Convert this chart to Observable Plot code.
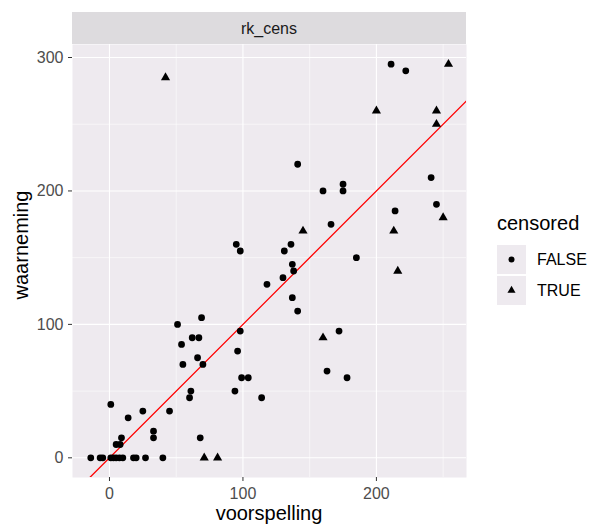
<!DOCTYPE html>
<html><head><meta charset="utf-8">
<script src="https://cdn.jsdelivr.net/npm/d3@7"></script>
<script src="https://cdn.jsdelivr.net/npm/@observablehq/plot@0.6"></script>
<style>
body{margin:0;background:#fff}
svg{display:block}
</style>
</head><body><div id="chart"></div>
<script>
// ---- data ----
const voorspelling = [
  211, 222, 141, 241, 160, 175, 175, 245, 214, 166,
  136, 131, 137, 138, 130, 118, 137, 141, 185, 172,
  163, 178, 114, 95, 98, 98, 96, 99, 104, 94,
  51, 69, 54, 62, 67, 66, 55, 70, 61, 60,
  45, 68, 1, 14, 25, 33, 33, 9, 5, 8,
  -14, -7, -5, 1, 3, 5, 7.5, 10, 18, 20, 27, 40,
  42, 254, 200, 245, 245, 250, 145, 213, 216, 160, 71, 81
];
const waarneming = [
  295, 290, 220, 210, 200, 205, 200, 190, 185, 175,
  160, 155, 145, 140, 135, 130, 120, 110, 150, 95,
  65, 60, 45, 160, 155, 95, 80, 60, 60, 50,
  100, 105, 85, 90, 90, 75, 70, 70, 50, 45,
  35, 15, 40, 30, 35, 20, 15, 15, 10, 10,
  0, 0, 0, 0, 0, 0, 0, 0, 0, 0, 0, 0,
  285, 295, 260, 260, 250, 180, 170, 170, 140, 90, 0, 0
];
const censored = [
  ...Array(62).fill(false),
  ...Array(12).fill(true)
];
const xTicks = [0, 100, 200];
const yTicks = [0, 100, 200, 300];
const xMinor = [50, 150, 250];
const yMinor = [50, 150, 250];
const refLine = [-40, 330];          // y = x reference line
const facetLabel = "rk_cens";
const xTitle = "voorspelling";
const yTitle = "waarneming";
const legendTitle = "censored";
const legendKeys = [false, true];
const legendLabels = ["FALSE", "TRUE"];

const rows = voorspelling.map((x, i) => ({x, y: waarneming[i], c: censored[i]}));

const W = 591, H = 527, ML = 72, MR = 125, MT = 44, MB = 50;
const FONT = "'Liberation Sans', Arial, sans-serif";
const PANEL = "#EEEAEF", STRIP = "#DDDBDE";

const chart = Plot.plot({
  width: W, height: H,
  marginLeft: ML, marginRight: MR, marginTop: MT, marginBottom: MB,
  style: {fontFamily: FONT, background: "white", overflow: "visible"},
  x: {domain: [-27.7, 267.5]},
  y: {domain: [-14.75, 309.75]},
  symbol: {domain: [false, true], range: ["circle", "triangle"]},
  marks: [
    Plot.frame({fill: PANEL, stroke: "none"}),
    Plot.gridX(xMinor, {stroke: "white", strokeOpacity: 1, strokeWidth: 0.55}),
    Plot.gridY(yMinor, {stroke: "white", strokeOpacity: 1, strokeWidth: 0.55}),
    Plot.gridX(xTicks, {stroke: "white", strokeOpacity: 1, strokeWidth: 1.1}),
    Plot.gridY(yTicks, {stroke: "white", strokeOpacity: 1, strokeWidth: 1.1}),
    Plot.line(refLine, {x: d => d, y: d => d, stroke: "#FF0000", strokeWidth: 1.3, clip: true}),
    Plot.dot(rows, {x: "x", y: "y", symbol: "c", r: 3.4, fill: "black", stroke: "none"}),
    Plot.axisX(xTicks, {tickSize: 4, tickPadding: 6, fontSize: 16, fill: "#4D4D4D", stroke: "#333333", label: null}),
    Plot.axisY(yTicks, {tickSize: 4, tickPadding: 5, fontSize: 16, fill: "#4D4D4D", stroke: "#333333", label: null})
  ]
});

const svg = d3.select(chart);
const panelLeft = ML, panelRight = W - MR;
const cx = (panelLeft + panelRight) / 2;

// facet strip
svg.append("rect").attr("x", panelLeft).attr("y", 12).attr("width", panelRight - panelLeft).attr("height", MT - 12).attr("fill", STRIP);
svg.append("text").attr("x", cx).attr("y", 28).attr("dy", "0.35em").attr("text-anchor", "middle")
  .attr("font-family", FONT).attr("font-size", 16).attr("fill", "#1A1A1A").text(facetLabel);

// axis titles
svg.append("text").attr("x", cx).attr("y", 520).attr("text-anchor", "middle")
  .attr("font-family", FONT).attr("font-size", 20).attr("fill", "black").text(xTitle);
svg.append("text").attr("transform", `translate(21,245) rotate(-90)`).attr("dy", "0.35em").attr("text-anchor", "middle")
  .attr("font-family", FONT).attr("font-size", 20).attr("fill", "black").text(yTitle);

// legend
const lg = svg.append("g").attr("text-anchor", "start");
lg.append("text").attr("x", 497).attr("y", 230).attr("text-anchor", "start")
  .attr("font-family", FONT).attr("font-size", 20).attr("fill", "black").text(legendTitle);
const symArea = Math.PI * 3.0 * 3.0;
legendKeys.forEach((k, i) => {
  const y0 = 245 + i * 31;
  lg.append("rect").attr("x", 497).attr("y", y0).attr("width", 29).attr("height", 29).attr("fill", PANEL);
  lg.append("path").attr("transform", `translate(511.5,${y0 + 14.5})`)
    .attr("d", d3.symbol(k ? d3.symbolTriangle : d3.symbolCircle, symArea)()).attr("fill", "black");
  lg.append("text").attr("x", 537).attr("y", y0 + 14.5).attr("dy", "0.35em").attr("text-anchor", "start")
    .attr("font-family", FONT).attr("font-size", 16).attr("fill", "black").text(legendLabels[i]);
});

document.getElementById("chart").appendChild(chart);
</script>
</body></html>
